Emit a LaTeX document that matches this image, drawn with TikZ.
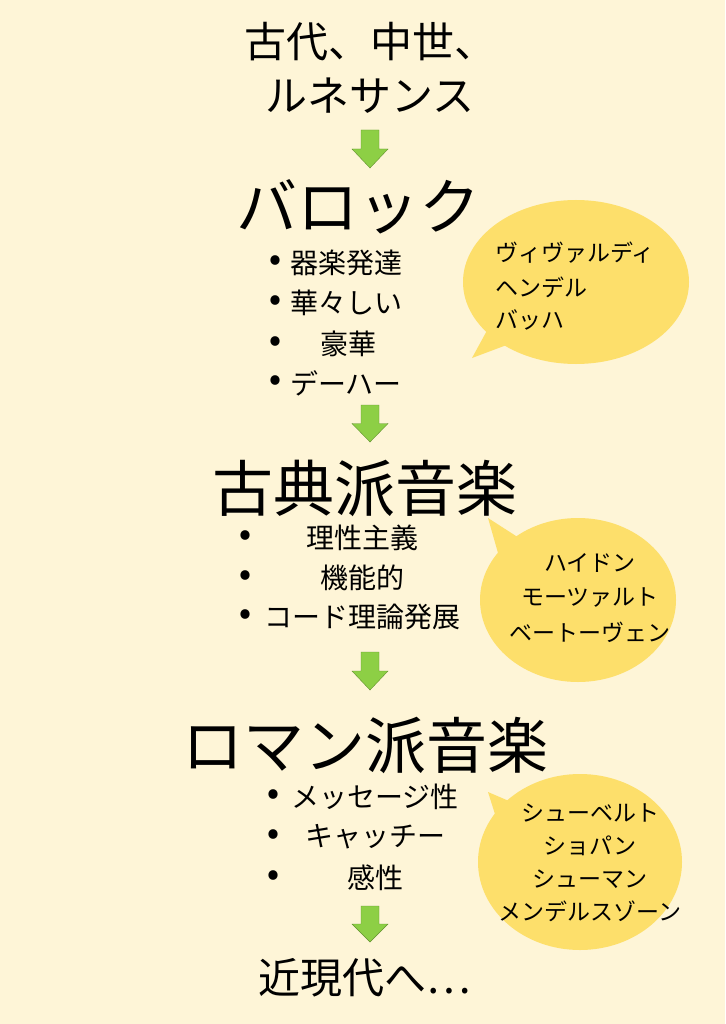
\documentclass[tikz,border=0pt]{standalone}
\usepackage{fontspec}
\setmainfont{Noto Sans CJK JP}
\begin{document}
\begin{tikzpicture}[x=1pt,y=-1pt,
  big/.style={font=\fontsize{61}{61}\selectfont,inner sep=0},
  mid/.style={font=\fontsize{42}{42}\selectfont,inner sep=0},
  item/.style={font=\fontsize{28}{28}\selectfont,inner sep=0},
  bul/.style={font=\fontsize{30}{30}\selectfont\bfseries,inner sep=0},
  bub/.style={font=\fontsize{23}{23}\selectfont,inner sep=0}]
\definecolor{bgc}{HTML}{FEF5D7}
\definecolor{bubblec}{HTML}{FDDF6B}
\definecolor{arrc}{HTML}{8DCF45}
\tikzset{arr/.style={fill=arrc,draw=arrc!70!black,line width=0.4pt}}
\fill[bgc] (0,0) rectangle (725,1024);
\useasboundingbox (0,0) rectangle (725,1024);
% arrows
\foreach \y/\h in {130/38,405/37,652/38,906/36}{
  \draw[arr] (361,\y) -- (379,\y) -- (379,\y+0.5*\h) -- (388,\y+0.5*\h) -- (370,\y+\h) -- (352,\y+0.5*\h) -- (361,\y+0.5*\h) -- cycle;}
% bubbles
\fill[bubblec] (576,282) ellipse [x radius=113,y radius=82];
\fill[bubblec] (490,325) -- (472,358) -- (520,340) -- cycle;
\fill[bubblec] (578,600) ellipse [x radius=98,y radius=82];
\fill[bubblec] (500,560) -- (488,518) -- (530,545) -- cycle;
\fill[bubblec] (580,862) ellipse [x radius=102,y radius=88];
\fill[bubblec] (500,830) -- (488,792) -- (530,810) -- cycle;
% headings
\node[mid] (t1) at (370,42) {古代、中世、};
\node[mid] (t2) at (370,96) {ルネサンス};
\node[big] (baroque) at (358,207) {バロック};
\node[big] (classic) at (365,488) {古典派音楽};
\node[big] (roman) at (365,745) {ロマン派音楽};
\node[mid] (modern) at (365,978) {近現代へ…};
% baroque items
\foreach \y/\t/\x in {263/器楽発達/290,303/華々しい/290,344/豪華/320,383/デーハー/290}{
  \node[bul] at (275,\y) {•};
  \node[item,anchor=west] at (\x,\y) {\t};}
% classic items
\foreach \y/\t in {538/理性主義,578/機能的,617/コード理論発展}{
  \node[bul] at (245,\y) {•};
  \node[item] at (362,\y) {\t};}
% roman items
\foreach \y/\t in {797/メッセージ性,837/キャッチー,878/感性}{
  \node[bul] at (273,\y) {•};
  \node[item] at (375,\y) {\t};}
% bubble texts
\node[bub,anchor=west] at (495,253) {ヴィヴァルディ};
\node[bub,anchor=west] at (495,287) {ヘンデル};
\node[bub,anchor=west] at (495,320) {バッハ};
\node[bub] at (590,563) {ハイドン};
\node[bub] at (590,598) {モーツァルト};
\node[bub] at (590,632) {ベートーヴェン};
\node[bub] at (590,813) {シューベルト};
\node[bub] at (590,846) {ショパン};
\node[bub] at (590,879) {シューマン};
\node[bub] at (590,911) {メンデルスゾーン};
\end{tikzpicture}
\end{document}
